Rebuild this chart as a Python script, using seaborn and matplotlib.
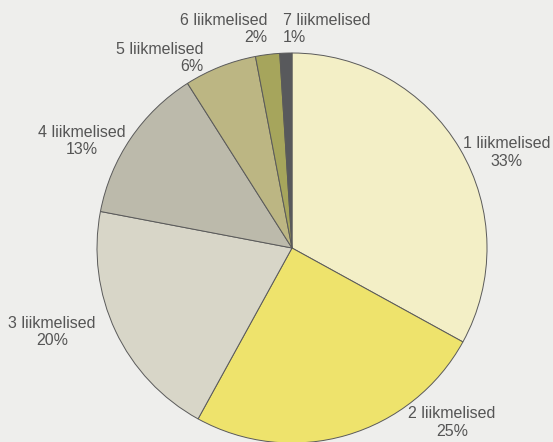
import numpy as np
import pandas as pd
import matplotlib
matplotlib.use("Agg")
import matplotlib.pyplot as plt
import seaborn as sns

# andmed: leibkonnad liikmete arvu järgi
groups = ['1 liikmelised', '2 liikmelised', '3 liikmelised', '4 liikmelised',
          '5 liikmelised', '6 liikmelised', '7 liikmelised']
shares = [33, 25, 20, 13, 6, 2, 1]
colors = ['#f3efc6', '#eee36c', '#d8d6c8', '#bcbaab', '#bcb683', '#a6a55c', '#58595c']

# sildi asukohad (andmeühikutes, raadius = 1) ja joondus
label_pos = [(1.10, 0.49), (0.82, -0.895), (-1.23, -0.43), (-1.08, 0.55),
             (-0.455, 0.975), (-0.128, 1.123), (-0.046, 1.123)]
label_ha = ['center', 'center', 'center', 'center', 'right', 'right', 'left']

sns.set_theme(style='white')
plt.rcParams['font.family'] = ['Liberation Sans', 'DejaVu Sans']

bg = '#eeeeec'
fig = plt.figure(figsize=(5.53, 4.42), dpi=100, facecolor=bg)
ax = fig.add_axes([0, 0, 1, 1])
ax.set_facecolor(bg)

wedges, _ = ax.pie(shares, colors=colors, startangle=90, counterclock=False,
                   radius=1.0, wedgeprops=dict(edgecolor='#5a5a5a', linewidth=0.7))

# pikslid -> andmeühikud: keskpunkt (292, 248), raadius 195 px
ax.set_xlim(-292 / 195, (553 - 292) / 195)
ax.set_ylim(-(442 - 248) / 195, 248 / 195)
ax.set_aspect('equal')
ax.axis('off')

for name, val, (x, y), ha in zip(groups, shares, label_pos, label_ha):
    ax.text(x, y, f'{name}\n{val}%', ha=ha, va='center', multialignment=ha,
            fontsize=11.5, color='#555555', linespacing=1.2)

fig.savefig('out.png', dpi=100, facecolor=bg)
